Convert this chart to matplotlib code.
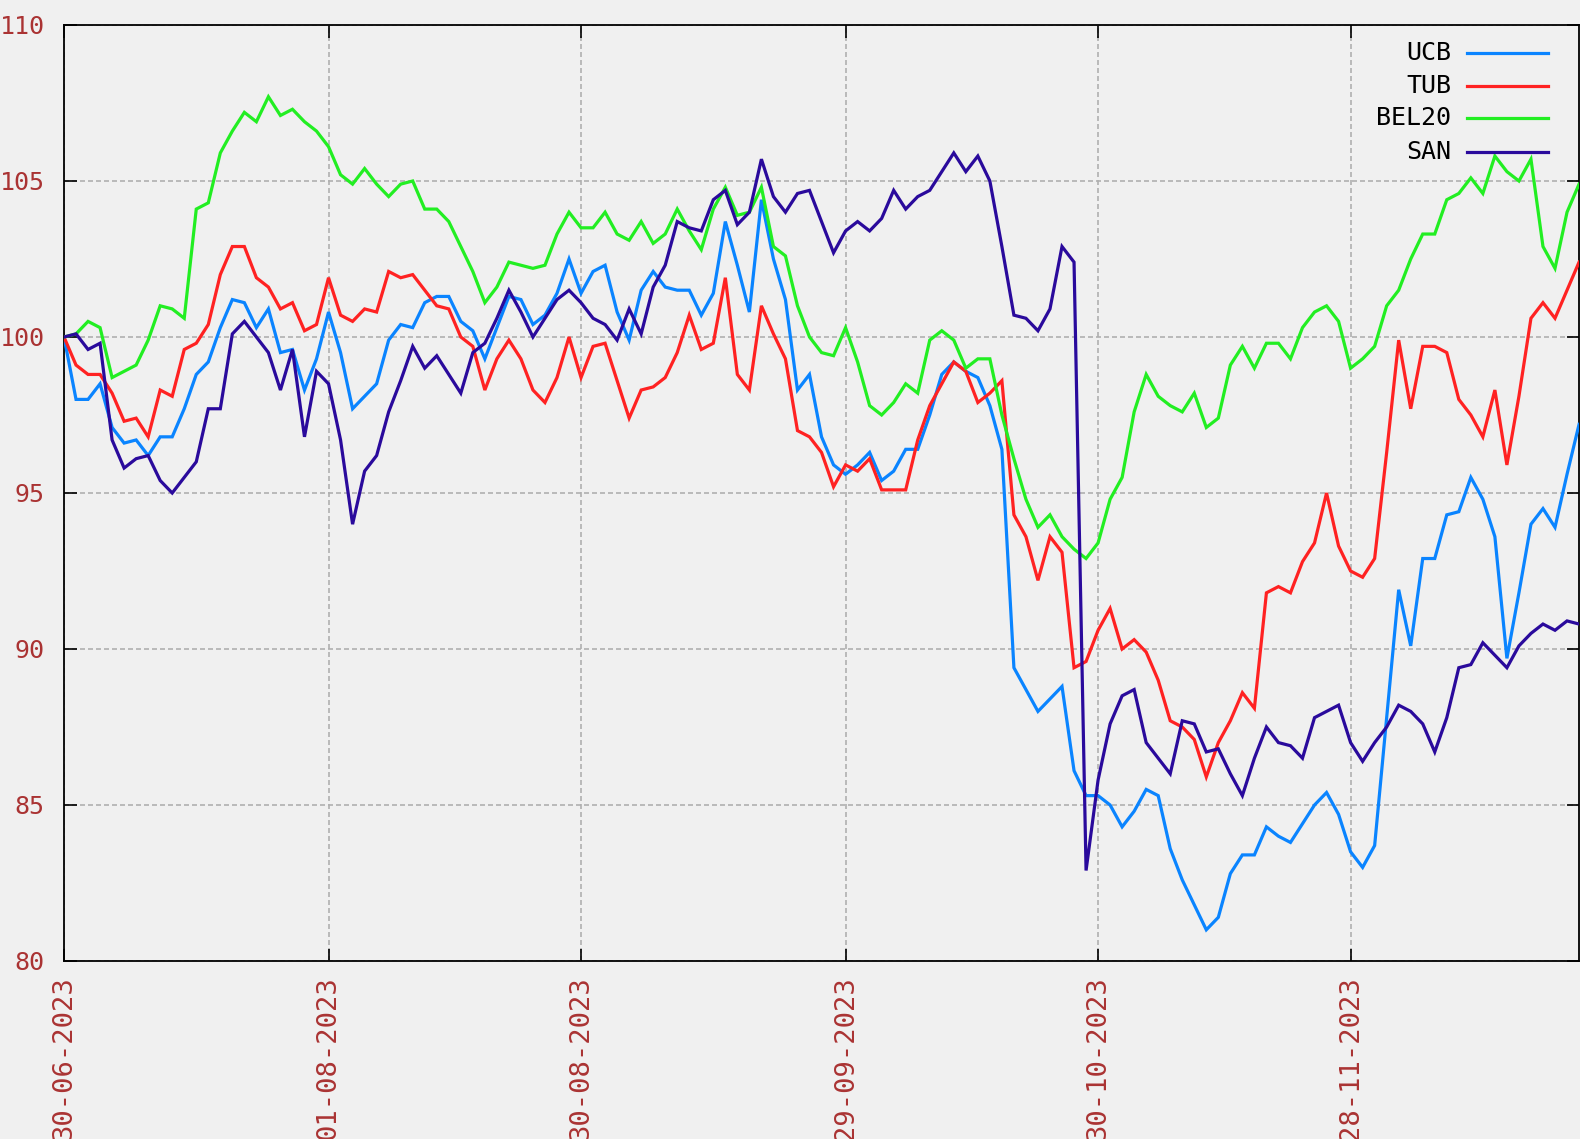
import matplotlib
matplotlib.use("Agg")
import matplotlib.pyplot as plt
import numpy as np

# trading-day index since 30-06-2023
tick_pos = [0, 22, 43, 65, 86, 107]
tick_labels = ["30-06-2023", "01-08-2023", "30-08-2023", "29-09-2023", "30-10-2023", "28-11-2023"]

ucb = [100.0, 98.0, 98.0, 98.5, 97.1, 96.6, 96.7, 96.2, 96.8, 96.8,
       97.7, 98.8, 99.2, 100.3, 101.2, 101.1, 100.3, 100.9, 99.5, 99.6,
       98.3, 99.3, 100.8, 99.5, 97.7, 98.1, 98.5, 99.9, 100.4, 100.3,
       101.1, 101.3, 101.3, 100.5, 100.2, 99.3, 100.3, 101.3, 101.2, 100.4,
       100.7, 101.4, 102.5, 101.4, 102.1, 102.3, 100.8, 99.9, 101.5, 102.1,
       101.6, 101.5, 101.5, 100.7, 101.4, 103.7, 102.3, 100.8, 104.4, 102.5,
       101.2, 98.3, 98.8, 96.8, 95.9, 95.6, 95.9, 96.3, 95.4, 95.7,
       96.4, 96.4, 97.5, 98.8, 99.2, 98.9, 98.7, 97.8, 96.4, 89.4,
       88.7, 88.0, 88.4, 88.8, 86.1, 85.3, 85.3, 85.0, 84.3, 84.8,
       85.5, 85.3, 83.6, 82.6, 81.8, 81.0, 81.4, 82.8, 83.4, 83.4,
       84.3, 84.0, 83.8, 84.4, 85.0, 85.4, 84.7, 83.5, 83.0, 83.7,
       87.8, 91.9, 90.1, 92.9, 92.9, 94.3, 94.4, 95.5, 94.8, 93.6,
       89.7, 91.8, 94.0, 94.5, 93.9, 95.6, 97.2]

tub = [100.0, 99.1, 98.8, 98.8, 98.2, 97.3, 97.4, 96.8, 98.3, 98.1,
       99.6, 99.8, 100.4, 102.0, 102.9, 102.9, 101.9, 101.6, 100.9, 101.1,
       100.2, 100.4, 101.9, 100.7, 100.5, 100.9, 100.8, 102.1, 101.9, 102.0,
       101.5, 101.0, 100.9, 100.0, 99.7, 98.3, 99.3, 99.9, 99.3, 98.3,
       97.9, 98.7, 100.0, 98.7, 99.7, 99.8, 98.6, 97.4, 98.3, 98.4,
       98.7, 99.5, 100.7, 99.6, 99.8, 101.9, 98.8, 98.3, 101.0, 100.1,
       99.3, 97.0, 96.8, 96.3, 95.2, 95.9, 95.7, 96.1, 95.1, 95.1,
       95.1, 96.7, 97.8, 98.5, 99.2, 98.9, 97.9, 98.2, 98.6, 94.3,
       93.6, 92.2, 93.6, 93.1, 89.4, 89.6, 90.6, 91.3, 90.0, 90.3,
       89.9, 89.0, 87.7, 87.5, 87.1, 85.9, 87.0, 87.7, 88.6, 88.1,
       91.8, 92.0, 91.8, 92.8, 93.4, 95.0, 93.3, 92.5, 92.3, 92.9,
       96.3, 99.9, 97.7, 99.7, 99.7, 99.5, 98.0, 97.5, 96.8, 98.3,
       95.9, 98.1, 100.6, 101.1, 100.6, 101.5, 102.4]

bel20 = [100.0, 100.1, 100.5, 100.3, 98.7, 98.9, 99.1, 99.9, 101.0, 100.9,
         100.6, 104.1, 104.3, 105.9, 106.6, 107.2, 106.9, 107.7, 107.1, 107.3,
         106.9, 106.6, 106.1, 105.2, 104.9, 105.4, 104.9, 104.5, 104.9, 105.0,
         104.1, 104.1, 103.7, 102.9, 102.1, 101.1, 101.6, 102.4, 102.3, 102.2,
         102.3, 103.3, 104.0, 103.5, 103.5, 104.0, 103.3, 103.1, 103.7, 103.0,
         103.3, 104.1, 103.4, 102.8, 104.1, 104.8, 103.9, 104.0, 104.8, 102.9,
         102.6, 101.0, 100.0, 99.5, 99.4, 100.3, 99.2, 97.8, 97.5, 97.9,
         98.5, 98.2, 99.9, 100.2, 99.9, 99.0, 99.3, 99.3, 97.5, 96.1,
         94.8, 93.9, 94.3, 93.6, 93.2, 92.9, 93.4, 94.8, 95.5, 97.6,
         98.8, 98.1, 97.8, 97.6, 98.2, 97.1, 97.4, 99.1, 99.7, 99.0,
         99.8, 99.8, 99.3, 100.3, 100.8, 101.0, 100.5, 99.0, 99.3, 99.7,
         101.0, 101.5, 102.5, 103.3, 103.3, 104.4, 104.6, 105.1, 104.6, 105.8,
         105.3, 105.0, 105.7, 102.9, 102.2, 104.0, 104.9]

san = [100.0, 100.1, 99.6, 99.8, 96.7, 95.8, 96.1, 96.2, 95.4, 95.0,
       95.5, 96.0, 97.7, 97.7, 100.1, 100.5, 100.0, 99.5, 98.3, 99.6,
       96.8, 98.9, 98.5, 96.7, 94.0, 95.7, 96.2, 97.6, 98.6, 99.7,
       99.0, 99.4, 98.8, 98.2, 99.5, 99.8, 100.6, 101.5, 100.8, 100.0,
       100.6, 101.2, 101.5, 101.1, 100.6, 100.4, 99.9, 100.9, 100.1, 101.6,
       102.3, 103.7, 103.5, 103.4, 104.4, 104.7, 103.6, 104.0, 105.7, 104.5,
       104.0, 104.6, 104.7, 103.7, 102.7, 103.4, 103.7, 103.4, 103.8, 104.7,
       104.1, 104.5, 104.7, 105.3, 105.9, 105.3, 105.8, 105.0, 102.9, 100.7,
       100.6, 100.2, 100.9, 102.9, 102.4, 82.9, 85.8, 87.6, 88.5, 88.7,
       87.0, 86.5, 86.0, 87.7, 87.6, 86.7, 86.8, 86.0, 85.3, 86.5,
       87.5, 87.0, 86.9, 86.5, 87.8, 88.0, 88.2, 87.0, 86.4, 87.0,
       87.5, 88.2, 88.0, 87.6, 86.7, 87.8, 89.4, 89.5, 90.2, 89.8,
       89.4, 90.1, 90.5, 90.8, 90.6, 90.9, 90.8]

names = ["UCB", "TUB", "BEL20", "SAN"]
colors = ["#0a84ff", "#ff2222", "#22ee22", "#2a0a9c"]
series = [ucb, tub, bel20, san]

bg = "#f0f0f0"
lab_col = "#aa3333"
plt.rcParams["font.family"] = ["DejaVu Sans Mono"]

fig = plt.figure(figsize=(15.8, 11.39), dpi=100, facecolor=bg)
ax = fig.add_axes([64 / 1580, 178 / 1139, 1 - 64 / 1580 - 0.0006, 936 / 1139])
ax.set_facecolor(bg)

for name, col, vals in zip(names, colors, series):
    x = np.arange(len(vals))
    ax.plot(x, vals, color=col, lw=2.3, solid_joinstyle="miter", zorder=3)

ax.set_xlim(0, 126)
ax.set_ylim(80, 110)
ax.set_yticks([80, 85, 90, 95, 100, 105, 110])
ax.set_xticks(tick_pos)
ax.set_xticklabels(tick_labels, rotation=90, va="top", ha="center", fontsize=19.5)

ax.grid(True, color="#b0b0b0", linestyle=(0, (3, 1.8)), lw=1.2, zorder=1)
ax.tick_params(axis="both", direction="in", length=9, width=1.2, color="black",
               top=True, right=True, labelcolor=lab_col)
ax.tick_params(axis="y", pad=14, labelsize=18)
ax.tick_params(axis="x", pad=11)
for s in ax.spines.values():
    s.set_linewidth(1.3)
    s.set_color("black")

# gnuplot style key: right-aligned text, line sample after it
key_y = [0.9698, 0.9348, 0.9003, 0.8646]
for name, col, ky in zip(names, colors, key_y):
    ax.text(0.9156, ky, name, transform=ax.transAxes, ha="right", va="center",
            fontsize=18, color="black")
    ax.plot([0.926, 0.9796], [ky, ky], transform=ax.transAxes, color=col, lw=2.3,
            clip_on=False, zorder=4)

fig.savefig("out.png", dpi=100, facecolor=bg)
